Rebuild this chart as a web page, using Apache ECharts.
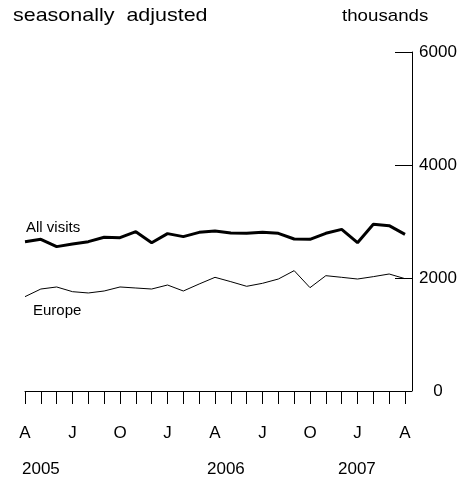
<!DOCTYPE html>
<html>
<head>
<meta charset="utf-8">
<script src="https://cdn.jsdelivr.net/npm/echarts@6/dist/echarts.min.js"></script>
<style>html,body{margin:0;padding:0;background:#fff}#c{width:463px;height:477px}</style>
</head>
<body>
<div id="c"></div>
<script>
var months = ['Apr 2005','May 2005','Jun 2005','Jul 2005','Aug 2005','Sep 2005','Oct 2005','Nov 2005','Dec 2005',
  'Jan 2006','Feb 2006','Mar 2006','Apr 2006','May 2006','Jun 2006','Jul 2006','Aug 2006','Sep 2006','Oct 2006','Nov 2006','Dec 2006',
  'Jan 2007','Feb 2007','Mar 2007','Apr 2007'];
var tickLetters = ['A','M','J','J','A','S','O','N','D','J','F','M','A','M','J','J','A','S','O','N','D','J','F','M','A'];
var allVisits = [2643,2684,2555,2602,2643,2720,2714,2820,2625,2785,2732,2808,2832,2796,2791,2808,2791,2690,2684,2791,2861,2625,2950,2926,2773];
var europe = [1670,1805,1841,1758,1735,1770,1841,1823,1805,1876,1770,1894,2012,1935,1853,1906,1982,2130,1829,2041,2012,1982,2024,2071,1988];
var yearLabels = ['2005','2006','2007'];
var seriesNames = ['All visits','Europe'];

var chart = echarts.init(document.getElementById('c'), null, {renderer:'canvas'});
var font = 'Liberation Sans, Arial, sans-serif';
chart.setOption({
  animation:false,
  backgroundColor:'#fff',
  grid:{left:25,right:58,top:52,bottom:86},
  xAxis:{
    type:'category', data:months, boundaryGap:false,
    axisLine:{show:true,lineStyle:{color:'#000',width:1}},
    axisTick:{show:true,interval:0,length:13,lineStyle:{color:'#000',width:1}},
    axisLabel:{interval:2,margin:34,color:'#000',fontSize:17,fontFamily:font,
      formatter:function(v,i){return tickLetters[i];}},
    splitLine:{show:false}
  },
  yAxis:{
    type:'value', position:'right', offset:7, min:0, max:6000, interval:2000,
    axisLine:{show:true,lineStyle:{color:'#000',width:1}},
    axisTick:{show:true,inside:true,length:17,lineStyle:{color:'#000',width:1}},
    axisLabel:{margin:26,align:'center',color:'#000',fontSize:17,fontFamily:font,
      formatter:function(v){return String(v);}},
    splitLine:{show:false}
  },
  series:[
    {name:seriesNames[0],type:'line',data:allVisits,showSymbol:false,symbol:'none',
     lineStyle:{color:'#000',width:3},itemStyle:{color:'#000'}},
    {name:seriesNames[1],type:'line',data:europe,showSymbol:false,symbol:'none',
     lineStyle:{color:'#000',width:1},itemStyle:{color:'#000'}}
  ],
  graphic:[
    {type:'text',x:13,y:6,scaleX:1.13,style:{text:'seasonally  adjusted',font:'19px '+font,fill:'#000'}},
    {type:'text',x:342,y:8,scaleX:1.1,style:{text:'thousands',font:'17px '+font,fill:'#000'}},
    {type:'text',left:26,top:220,style:{text:seriesNames[0],font:'15px '+font,fill:'#000'}},
    {type:'text',left:33,top:303,style:{text:seriesNames[1],font:'15px '+font,fill:'#000'}},
    {type:'text',left:22,top:461,style:{text:yearLabels[0],font:'17px '+font,fill:'#000'}},
    {type:'text',left:207,top:461,style:{text:yearLabels[1],font:'17px '+font,fill:'#000'}},
    {type:'text',left:338,top:461,style:{text:yearLabels[2],font:'17px '+font,fill:'#000'}}
  ]
});
</script>
</body>
</html>
